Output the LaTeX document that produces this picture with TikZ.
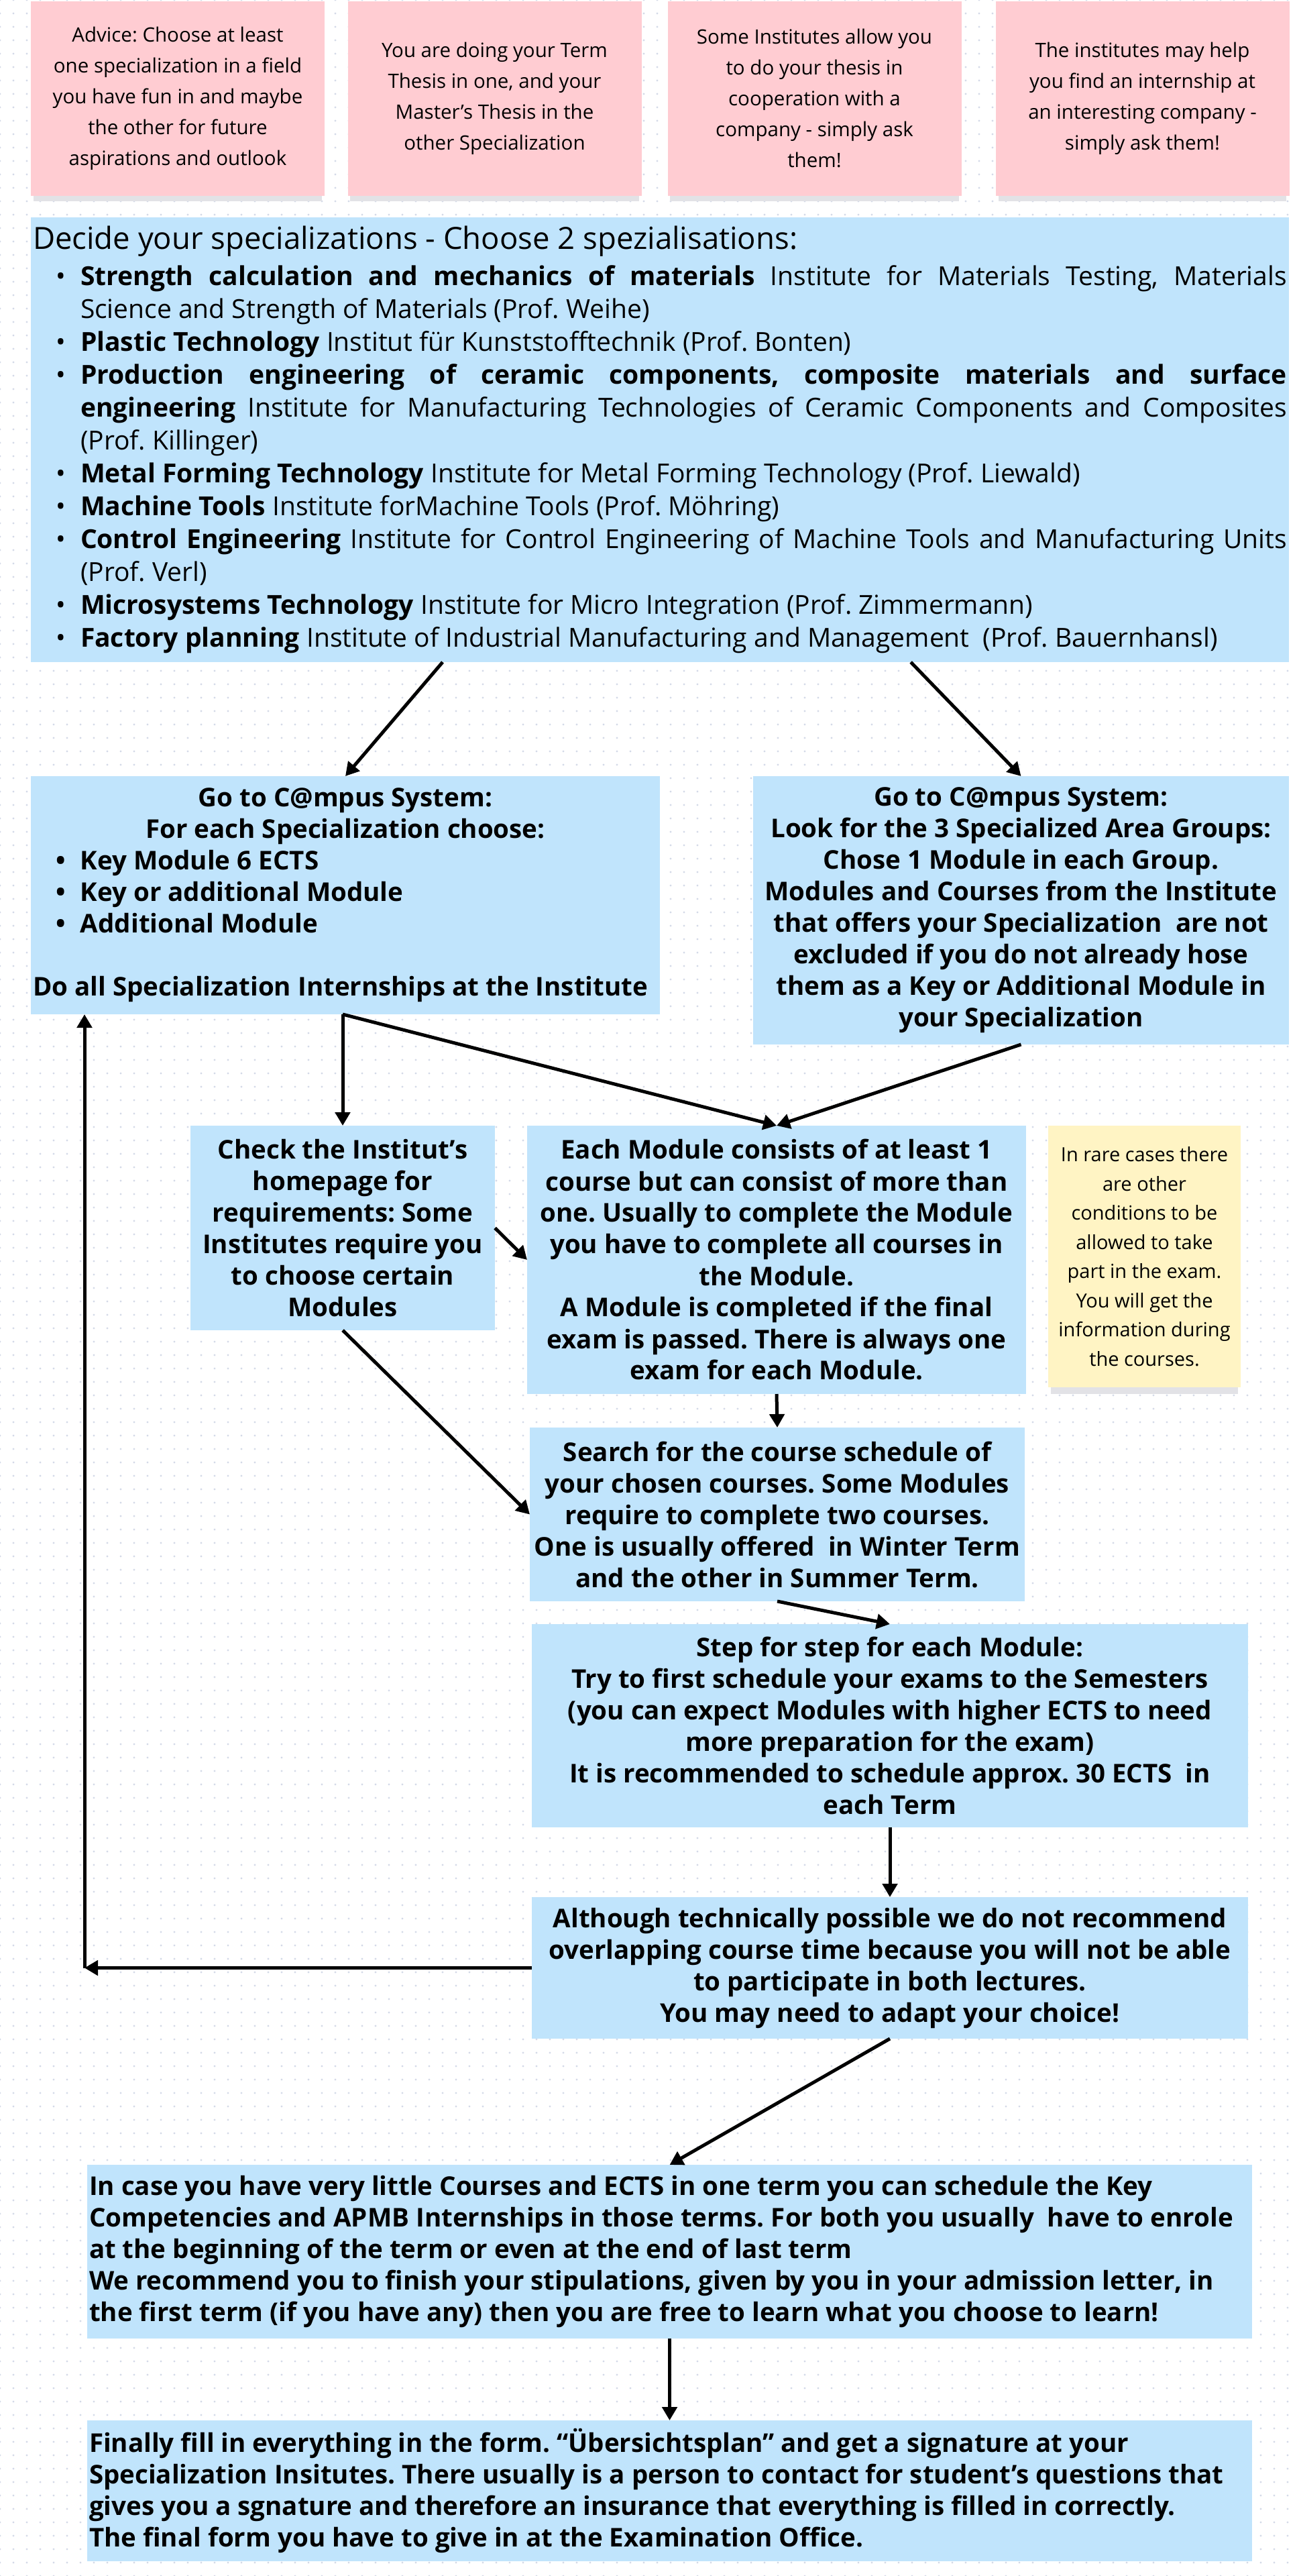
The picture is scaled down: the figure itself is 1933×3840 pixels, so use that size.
\documentclass[tikz,border=0pt]{standalone}
\usepackage{fontspec}
\setmainfont{Open Sans}
\usetikzlibrary{arrows.meta,calc,patterns.meta}
\definecolor{boxblue}{RGB}{192,228,252}
\definecolor{notepink}{RGB}{255,204,210}
\definecolor{noteyellow}{RGB}{255,244,196}
\definecolor{dotgrey}{RGB}{212,218,232}
\definecolor{notesh}{RGB}{226,226,230}
\newcommand\bxfont{\fontsize{38.5}{47}\selectfont\bfseries}
\newcommand\ntfont{\fontsize{29.5}{46}\selectfont}
\newcommand\ylfont{\fontsize{29}{43.5}\selectfont}
\newcommand\spitem[2]{\par\noindent\llap{\textbullet\hspace{22pt}}\textbf{#1} #2}
\newcommand\bitem{\noindent\llap{\textbullet\hspace{22pt}}}
\begin{document}
\frenchspacing
\begin{tikzpicture}[x=1pt,y=-1pt,
  bluebox/.style={fill=boxblue, inner sep=0pt, outer sep=0pt, align=center, font=\bxfont},
  pinknote/.style={fill=notepink, inner sep=0pt, outer sep=0pt, align=center, font=\ntfont, minimum width=438pt, minimum height=290pt},
  yellownote/.style={fill=noteyellow, inner sep=0pt, outer sep=0pt, align=center, font=\ylfont},
  arr/.style={line width=5pt, -{Triangle[length=20pt,width=22pt]}},
  shadowbar/.style={fill=notesh}]
\useasboundingbox (0,0) rectangle (1933,3840);
\fill[white] (0,0) rectangle (1933,3840);
\fill[pattern={Dots[distance=20pt,radius=1.6pt]}, pattern color=dotgrey] (0,0) rectangle (1933,3840);

% sticky note shadows
\fill[shadowbar] (50,288) rectangle (480,300);
\fill[shadowbar] (522,288) rectangle (953,300);
\fill[shadowbar] (999,288) rectangle (1430,300);
\fill[shadowbar] (1489,288) rectangle (1918,300);
\fill[shadowbar] (1567,2064) rectangle (1846,2078);

% pink notes
\node[pinknote] (n1) at (265,147) {Advice: Choose at least\\one specialization in a field\\you have fun in and maybe\\the other for future\\aspirations and outlook};
\node[pinknote] (n2) at (737.5,147) {You are doing your Term\\Thesis in one, and your\\Master’s Thesis in the\\other Specialization};
\node[pinknote] (n3) at (1214.5,147) {Some Institutes allow you\\to do your thesis in\\cooperation with a\\company - simply ask\\them!};
\node[pinknote] (n4) at (1703.5,147) {The institutes may help\\you find an internship at\\an interesting company -\\simply ask them!};

% main box
\node[bluebox, minimum width=1876pt, minimum height=663pt, align=left] (main) at (984,655.5) {\parbox[c]{1870pt}{\fontsize{45.5}{50}\selectfont\mdseries\parindent=0pt\tolerance=10000\hbadness=10000 Decide your specializations - Choose 2 spezialisations:\par\vspace{5pt}%
\fontsize{39}{49}\selectfont\mdseries\leftskip=71pt
\spitem{Strength calculation and mechanics of materials}{Institute for Materials Testing, Materials\linebreak Science and Strength of Materials (Prof. Weihe)}
\spitem{Plastic Technology}{Institut für Kunststofftechnik (Prof. Bonten)}
\spitem{Production engineering of ceramic components, composite materials and surface\linebreak engineering}{Institute for Manufacturing Technologies of Ceramic Components and Composites\linebreak (Prof. Killinger)}
\spitem{Metal Forming Technology}{Institute for Metal Forming Technology (Prof. Liewald)}
\spitem{Machine Tools}{Institute forMachine Tools (Prof. Möhring)}
\spitem{Control Engineering}{Institute for Control Engineering of Machine Tools and Manufacturing Units\linebreak (Prof. Verl)}
\spitem{Microsystems Technology}{Institute for Micro Integration (Prof. Zimmermann)}
\spitem{Factory planning}{Institute of Industrial Manufacturing and Management\ \ (Prof. Bauernhansl)}\par}};

% C@mpus boxes
\node[bluebox, minimum width=938pt, minimum height=355pt] (boxA) at (515,1334.5) {\parbox[c]{932pt}{\centering Go to C@mpus System:\\For each Specialization choose:\par
\raggedright\leftskip=71pt
\bitem Key Module 6 ECTS\par
\bitem Key or additional Module\par
\bitem Additional Module\par
\leftskip=0pt\vspace{47pt}Do all Specialization Internships at the Institute\par}};
\node[bluebox, minimum width=799pt, minimum height=400pt] (boxB) at (1522.5,1357) {Go to C@mpus System:\\Look for the 3 Specialized Area Groups:\\Chose 1 Module in each Group.\\Modules and Courses from the Institute\\that offers your Specialization\ \ are not\\excluded if you do not already hose\\them as a Key or Additional Module in\\your Specialization};

% middle row
\node[bluebox, minimum width=454pt, minimum height=305pt] (check) at (511,1830.5) {Check the Institut’s\\homepage for\\requirements: Some\\Institutes require you\\to choose certain\\Modules};
\node[bluebox, minimum width=744pt, minimum height=400pt] (each) at (1158,1878) {Each Module consists of at least 1\\course but can consist of more than\\one. Usually to complete the Module\\you have to complete all courses in\\the Module.\\A Module is completed if the final\\exam is passed. There is always one\\exam for each Module.};
\node[yellownote, minimum width=287pt, minimum height=390pt] (yel) at (1706.5,1873) {In rare cases there\\are other\\conditions to be\\allowed to take\\part in the exam.\\You will get the\\information during\\the courses.};

\node[bluebox, minimum width=738pt, minimum height=259pt] (search) at (1159,2257.5) {Search for the course schedule of\\your chosen courses. Some Modules\\require to complete two courses.\\One is usually offered\ \ in Winter Term\\and the other in Summer Term.};
\node[bluebox, minimum width=1068pt, minimum height=303pt] (step) at (1327,2572.5) {Step for step for each Module:\\Try to first schedule your exams to the Semesters\\(you can expect Modules with higher ECTS to need\\more preparation for the exam)\\It is recommended to schedule approx. 30 ECTS\ \ in\\each Term};
\node[bluebox, minimum width=1068pt, minimum height=211pt] (although) at (1327,2933.5) {Although technically possible we do not recommend\\overlapping course time because you will not be able\\to participate in both lectures.\\You may need to adapt your choice!};

\node[bluebox, minimum width=1737pt, minimum height=259pt] (incase) at (998.5,3356.5) {\parbox[c]{1731pt}{\raggedright In case you have very little Courses and ECTS in one term you can schedule the Key\\Competencies and APMB Internships in those terms. For both you usually\ \ have to enrole\\at the beginning of the term or even at the end of last term\\We recommend you to finish your stipulations, given by you in your admission letter, in\\the first term (if you have any) then you are free to learn what you choose to learn!}};
\node[bluebox, minimum width=1737pt, minimum height=210pt] (final) at (998.5,3713) {\parbox[c]{1731pt}{\raggedright Finally fill in everything in the form. “Übersichtsplan” and get a signature at your\\Specialization Insitutes. There usually is a person to contact for student’s questions that\\gives you a sgnature and therefore an insurance that everything is filled in correctly.\\The final form you have to give in at the Examination Office.}};

% connectors
\coordinate (mL) at ($(main.south west)!0.3273!(main.south east)$);
\coordinate (mR) at ($(main.south west)!0.6994!(main.south east)$);
\coordinate (aS) at (check.north |- boxA.south);
\coordinate (loopc) at (126,2933.5);
\coordinate (loopt) at (loopc |- boxA.south);
\draw[arr] (mL) -- (boxA.north);
\draw[arr] (mR) -- (boxB.north);
\draw[arr] (aS) -- (check.north);
\draw[arr] (aS) -- (each.north);
\draw[arr] (boxB.south) -- (each.north);
\draw[arr] (check.east) -- (each.west);
\draw[arr] (check.south) -- (search.west);
\draw[arr] (each.south) -- (search.north);
\draw[arr] (search.south) -- (step.north);
\draw[arr] (step.south) -- (although.north);
\draw[arr] (although.west) -- (loopc);
\draw[arr] (loopc) -- (loopt);
\draw[arr] (although.south) -- (incase.north);
\draw[arr] (incase.south) -- (final.north);
\end{tikzpicture}
\end{document}
